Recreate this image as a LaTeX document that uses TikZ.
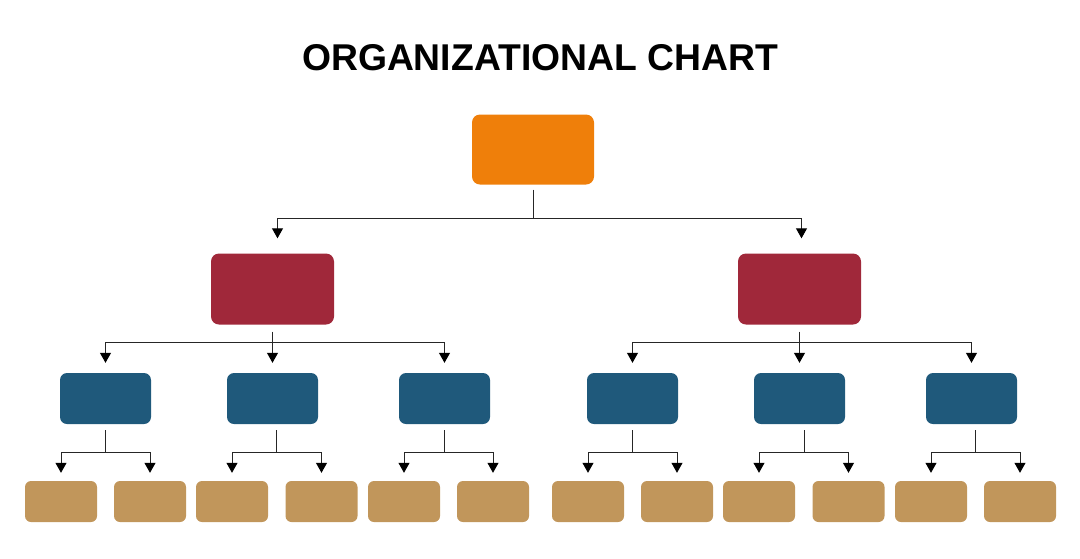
\documentclass[tikz,border=0pt]{standalone}
\usepackage{fontspec}
\setmainfont{Liberation Sans}
\usepackage{tikz}
\usetikzlibrary{arrows.meta}
\definecolor{ceoorange}{HTML}{EF7F0A}
\definecolor{vpred}{HTML}{A0283A}
\definecolor{mgrblue}{HTML}{1F597B}
\definecolor{stafftan}{HTML}{C1965B}

\begin{document}
\begin{tikzpicture}[x=1pt,y=-1pt,>={Triangle[width=11pt,length=10pt,fill=black,color=black]},
  line/.style={draw=black!85,line width=1pt},
  box/.style={rounded corners=8pt,inner sep=0pt},
  ceo node/.style={box,fill=ceoorange,minimum width=122pt,minimum height=70pt},
  vp node/.style={box,fill=vpred,minimum width=123pt,minimum height=71pt},
  mgr node/.style={box,rounded corners=7pt,fill=mgrblue,minimum width=91pt,minimum height=51pt},
  staff node/.style={box,rounded corners=6pt,fill=stafftan,minimum width=72pt,minimum height=41pt}]

  \useasboundingbox (0,0) rectangle (1080,558);

  \node (title) at (540,58) {\fontsize{37.3}{40}\selectfont\bfseries ORGANIZATIONAL CHART};

  \node[ceo node] (ceo) at (533,149.5) {};
  \node[vp node] (vp1) at (272.5,289) {};
  \node[vp node] (vp2) at (799.5,289) {};

  \node[mgr node] (m1) at (105.5,398.5) {};
  \node[mgr node] (m2) at (272.5,398.5) {};
  \node[mgr node] (m3) at (444.5,398.5) {};
  \node[mgr node] (m4) at (632.5,398.5) {};
  \node[mgr node] (m5) at (799.5,398.5) {};
  \node[mgr node] (m6) at (971.5,398.5) {};

  \node[staff node] (s1) at (61,501.5) {};
  \node[staff node] (s2) at (150,501.5) {};
  \node[staff node] (s3) at (232,501.5) {};
  \node[staff node] (s4) at (321.5,501.5) {};
  \node[staff node] (s5) at (404,501.5) {};
  \node[staff node] (s6) at (493,501.5) {};
  \node[staff node] (s7) at (588,501.5) {};
  \node[staff node] (s8) at (677,501.5) {};
  \node[staff node] (s9) at (759,501.5) {};
  \node[staff node] (s10) at (848.5,501.5) {};
  \node[staff node] (s11) at (931,501.5) {};
  \node[staff node] (s12) at (1020,501.5) {};

  \draw[line] ([yshift=-5pt]ceo.south) -- ++(0,29) coordinate (j0);
  \draw[line,->,shorten >=15pt] (j0) -| ([xshift=5pt]vp1.north);
  \draw[line,->,shorten >=15pt] (j0) -| ([xshift=2pt]vp2.north);

  \draw[line,->,shorten >=10pt] ([yshift=-7pt]vp1.south) -- (m2.north);
  \path ([yshift=-7pt]vp1.south) ++(0,11) coordinate (j1);
  \draw[line,->,shorten >=10pt] (j1) -| (m1.north);
  \draw[line,->,shorten >=10pt] (j1) -| (m3.north);

  \draw[line,->,shorten >=10pt] ([yshift=-7pt]vp2.south) -- (m5.north);
  \path ([yshift=-7pt]vp2.south) ++(0,11) coordinate (j2);
  \draw[line,->,shorten >=10pt] (j2) -| (m4.north);
  \draw[line,->,shorten >=10pt] (j2) -| (m6.north);

  \draw[line] ([yshift=-6pt]m1.south) -- ++(0,22) coordinate (k1);
  \draw[line,->,shorten >=8pt] (k1) -| (s1.north);
  \draw[line,->,shorten >=8pt] (k1) -| (s2.north);
  \draw[line] ([yshift=-6pt,xshift=4pt]m2.south) -- ++(0,22) coordinate (k2);
  \draw[line,->,shorten >=8pt] (k2) -| (s3.north);
  \draw[line,->,shorten >=8pt] (k2) -| (s4.north);
  \draw[line] ([yshift=-6pt]m3.south) -- ++(0,22) coordinate (k3);
  \draw[line,->,shorten >=8pt] (k3) -| (s5.north);
  \draw[line,->,shorten >=8pt] (k3) -| (s6.north);
  \draw[line] ([yshift=-6pt]m4.south) -- ++(0,22) coordinate (k4);
  \draw[line,->,shorten >=8pt] (k4) -| (s7.north);
  \draw[line,->,shorten >=8pt] (k4) -| (s8.north);
  \draw[line] ([yshift=-6pt,xshift=5pt]m5.south) -- ++(0,22) coordinate (k5);
  \draw[line,->,shorten >=8pt] (k5) -| (s9.north);
  \draw[line,->,shorten >=8pt] (k5) -| (s10.north);
  \draw[line] ([yshift=-6pt,xshift=4pt]m6.south) -- ++(0,22) coordinate (k6);
  \draw[line,->,shorten >=8pt] (k6) -| (s11.north);
  \draw[line,->,shorten >=8pt] (k6) -| (s12.north);
\end{tikzpicture}
\end{document}
